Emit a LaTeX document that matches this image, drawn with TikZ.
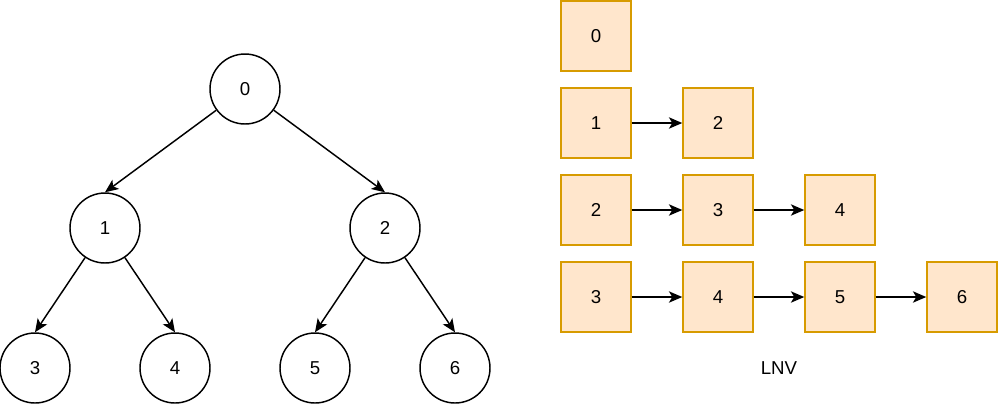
\documentclass[tikz,border=0pt]{standalone}
\usepackage{fontspec}
\setmainfont{Liberation Sans}
\usetikzlibrary{arrows.meta}

\begin{document}
\begin{tikzpicture}[x=0.75pt, y=-0.75pt,
  vertex/.style={draw, circle, line width=1.1pt, minimum size=52.5pt, inner sep=0pt, font=\fontsize{14}{16}\selectfont},
  cell/.style={draw={rgb,255:red,215;green,155;blue,0}, fill={rgb,255:red,255;green,230;blue,204}, line width=1.1pt, minimum size=52.5pt, inner sep=0pt, font=\fontsize{14}{16}\selectfont},
  link/.style={-{Stealth[length=10pt, width=8.5pt, inset=2.5pt]}, line width=1.1pt}]
  \useasboundingbox (0,0) rectangle (1000,405);

% the tree
\node[vertex] (t0) at (245, 89) {0};
\node[vertex] (t1) at (105, 228) {1};
\node[vertex] (t2) at (385, 228) {2};
\node[vertex] (t3) at (35, 368) {3};
\node[vertex] (t4) at (175, 368) {4};
\node[vertex] (t5) at (315, 368) {5};
\node[vertex] (t6) at (455, 368) {6};

\draw [link] (t0) -- (t1.north);
\draw [link] (t0) -- (t2.north);
\draw [link] (t1) -- (t3.north);
\draw [link] (t1) -- (t4.north);
\draw [link] (t2) -- (t5.north);
\draw [link] (t2) -- (t6.north);

% the lists
\node[cell] (a0) at (596, 36) {0};

\node[cell] (b0) at (596, 123) {1};
\node[cell] (b1) at (718, 123) {2};

\node[cell] (c0) at (596, 210) {2};
\node[cell] (c1) at (718, 210) {3};
\node[cell] (c2) at (840, 210) {4};

\node[cell] (d0) at (596, 297) {3};
\node[cell] (d1) at (718, 297) {4};
\node[cell] (d2) at (840, 297) {5};
\node[cell] (d3) at (962, 297) {6};

\draw [link] (b0) -- (b1);
\draw [link] (c0) -- (c1);
\draw [link] (c1) -- (c2);
\draw [link] (d0) -- (d1);
\draw [link] (d1) -- (d2);
\draw [link] (d2) -- (d3);

\node[font=\fontsize{14}{16}\selectfont] (lnv) at (779, 368) {LNV};
\end{tikzpicture}
\end{document}
